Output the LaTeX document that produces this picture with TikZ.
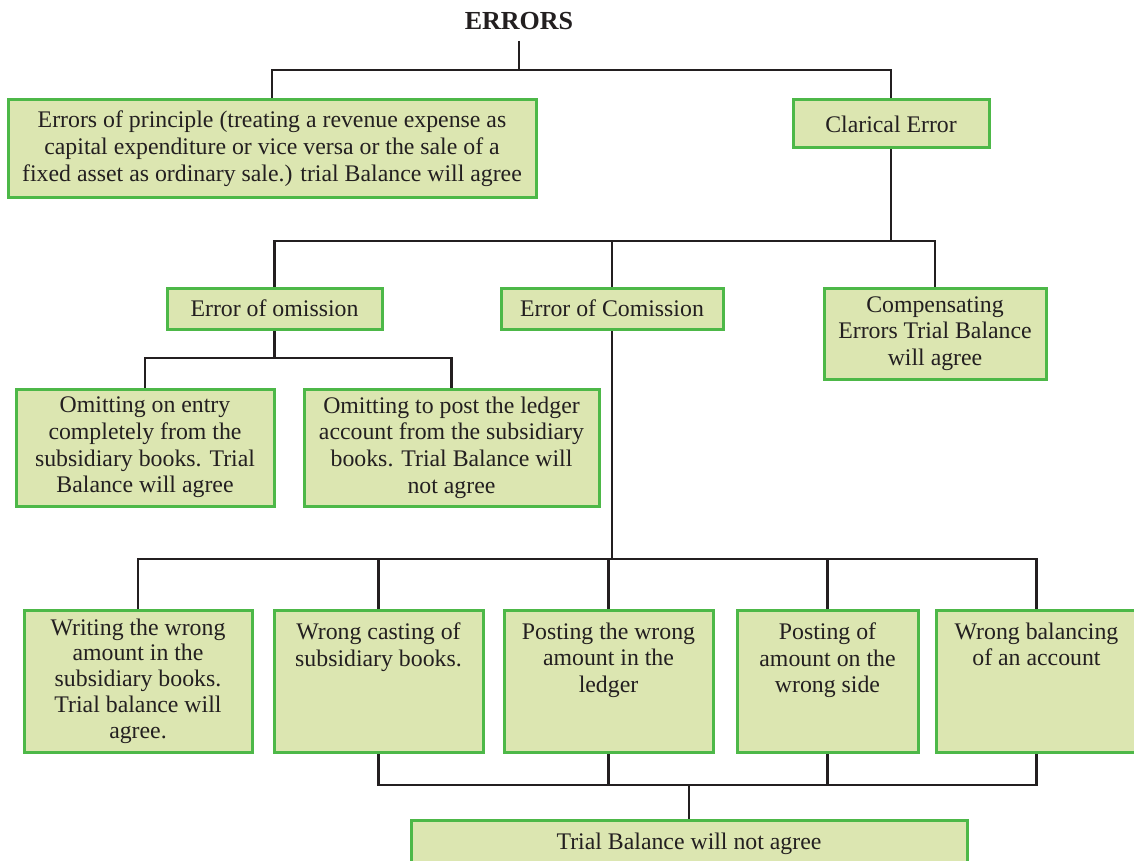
\documentclass[tikz,border=0pt]{standalone}
\usepackage{fontspec}
\setmainfont{Liberation Serif}
\usetikzlibrary{fit,backgrounds}
\definecolor{bfill}{RGB}{220,230,177}
\definecolor{bline}{RGB}{77,184,72}
\definecolor{tcol}{RGB}{35,31,32}
\begin{document}
\begin{tikzpicture}[x=1pt,y=-1pt,
  box/.style={draw=bline, fill=bfill, line width=3pt, inner sep=0pt, rectangle},
  txt/.style={align=center, text=tcol, inner sep=0pt, font=\fontsize{23.8}{26.7}\selectfont},
  conn/.style={draw=tcol, line width=2.8pt}]
\useasboundingbox (0,0) rectangle (1134,861);

\node[font=\bfseries\fontsize{26}{30}\selectfont, text=tcol, inner sep=0pt] (title) at (519,21) {ERRORS};

\node[box, fit={(8,100)(536,197)}] (p) {};
\node[box, fit={(793,100)(989,148)}] (c) {};
\node[box, fit={(167,288)(382,329)}] (om) {};
\node[box, fit={(501,288)(723,329)}] (cm) {};
\node[box, fit={(824,288)(1046,379)}] (cp) {};
\node[box, fit={(16,389)(274,506)}] (o1) {};
\node[box, fit={(304,389)(599,506)}] (o2) {};
\node[box, fit={(24,610)(252,752)}] (b1) {};
\node[box, fit={(274,610)(483,752)}] (b2) {};
\node[box, fit={(504,610)(713,752)}] (b3) {};
\node[box, fit={(737,610)(918,752)}] (b4) {};
\node[box, fit={(936,610)(1137,752)}] (b5) {};
\node[box, fit={(411,820)(967,870)}] (tb) {};

\node[txt] (tp) at (p.center) {Errors of principle (treating a revenue expense as\\capital expenditure or vice versa or the sale of a\\fixed asset as ordinary sale.) trial Balance will agree};
\node[txt] (tc) at (c.center) {Clarical Error};
\node[txt] (tom) at (om.center) {Error of omission};
\node[txt] (tcm) at (cm.center) {Error of Comission};
\node[txt] (tcp) at (cp.center) {Compensating\\Errors Trial Balance\\will agree};
\node[txt] (to1) at (o1.center) {Omitting on entry\\completely from the\\subsidiary books. Trial\\Balance will agree};
\node[txt] (to2) at (o2.center) {Omitting to post the ledger\\account from the subsidiary\\books. Trial Balance will\\not agree};
\node[txt, font=\fontsize{23.8}{25.8}\selectfont] (tb1) at (b1.center) {Writing the wrong\\amount in the\\subsidiary books.\\Trial balance will\\agree.};
\node[txt, anchor=north] (tb2) at ([yshift=-14pt]b2.north) {Wrong casting of\\subsidiary books.};
\node[txt, anchor=north] (tb3) at ([yshift=-14pt]b3.north) {Posting the wrong\\amount in the\\ledger};
\node[txt, anchor=north] (tb4) at ([yshift=-14pt]b4.north) {Posting of\\amount on the\\wrong side};
\node[txt, anchor=north] (tb5) at ([yshift=-14pt]b5.north) {Wrong balancing\\of an account};
\node[txt] (ttb) at (689,844) {Trial Balance will not agree};

\coordinate (j0) at (519,70);
\coordinate (j1) at (612,241);
\coordinate (j2) at (274.5,358);
\coordinate (j3) at (612,559);
\coordinate (j4) at (689,785);

\begin{scope}[on background layer]
\draw[conn] ([yshift=-11pt]title.south) -- (j0);
\draw[conn] (p.north) |- (j0) -| (c.north);
\draw[conn] (c.south) -- (c.south |- j1);
\draw[conn] (om.north) |- (j1) -| (cp.north);
\draw[conn] (cm.north) -- (j1);
\draw[conn] (om.south) -- (j2);
\draw[conn] (o1.north) |- (j2) -| (o2.north);
\draw[conn] (cm.south) -- (j3);
\draw[conn] (b1.north) |- (j3) -| (b5.north);
\draw[conn] (b2.north) -- (b2.north |- j3);
\draw[conn] (b3.north) -- (b3.north |- j3);
\draw[conn] (b4.north) -- (b4.north |- j3);
\draw[conn] (b2.south) |- (j4) -| (b5.south);
\draw[conn] (b3.south) -- (b3.south |- j4);
\draw[conn] (b4.south) -- (b4.south |- j4);
\draw[conn] (j4) -- (tb.north);
\end{scope}
\end{tikzpicture}
\end{document}
